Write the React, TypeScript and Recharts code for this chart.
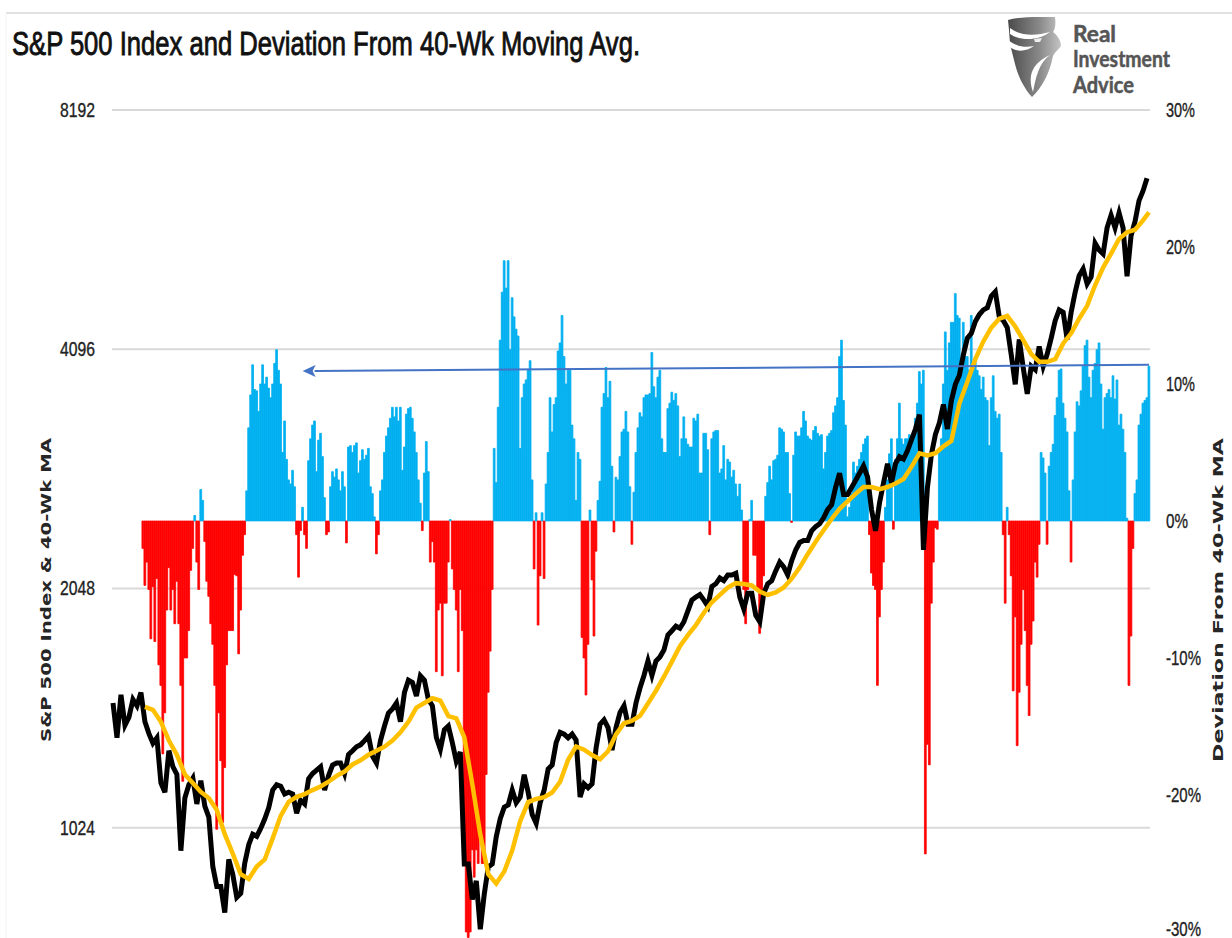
import React from "react";
import { ComposedChart, Bar, Line, XAxis, YAxis, CartesianGrid, Cell, ReferenceLine } from "recharts";

const title = "S&P 500 Index and Deviation From 40-Wk Moving Avg.";
const leftAxisTitle = "S&P 500 Index & 40-Wk MA";
const rightAxisTitle = "Deviation From 40-Wk MA";
const brandLines = ["Real", "Investment", "Advice"];
const leftTicks = [1024, 2048, 4096, 8192];
const rightTicks = [-30, -20, -10, 0, 10, 20, 30];

// Weekly-ish samples. Rows are evenly spaced across the date axis.
const ROW_COUNT = 520;
const DEV_START = 15; // first row with a deviation bar
const MA_START = 16; // first row with a moving average value

const deviationEarly = [
  -2,-4.7,-3,-5,-8.6,-4.8,-8.8,-4.2,-10.5,-12,-17,-14,-6.5,-3.4,-6.5,-5,-7.5,-4.4,-7.5,-12,-19,-10,-10,-8,-3.6,-2,0.4,-3,-5,2.3,1.5,-1.5,-4.4,-5.5,-7.5,-9,-12,-22.5,-14,-17.5,-22,-18,-10.5,-8,-8,-8,-3.9,-4,-9.7,-6.5,-2.5,-1,
  2.2,6.8,9.2,11.4,9.6,9.5,8,10,11.4,10,10.5,9.7,9,10,11.5,12.5,11,10,5,7.3,4.5,3,2.7,3.7,2.5,-1,-4.1,-0.7,1,-1,-2,4.4,6,7,7.3,3.6,5.9,6.4,4.7,1.7,-1,-0.8,2.5,3.6,3.2,3.8,3,2.2,3.6,2.5,-1.6,5.4,5.5,5,5.5,5.7,3.5,4.4,5.2,4.5,4.8,5.3,2.5,2,0.3,-2.4,-1,2.2,3,5,6.2,6.8,7.5,8.3,7.6,8.3,7.3,8.3,3.7,5.4,7.8,8.2,8.3,7.5,6.5,5,3,1.3,-0.7,3.5,5.8,3.6,-3,-1.5,-3,-11,-6.5,
];
const deviationMiddle = [
  -6,-11.3,-6,-6,-3,0.1,-3.5,-5,-6.5,-11,-5,-8,-25,-30,-30.4,-30,-24,-26,-24,-25,-23,-25,-25,-18.5,-12.5,-9.5,-5,
  5.3,2.8,8.3,13.2,16.7,19,17,19,12.5,16.3,14.9,14,13.5,5.3,9,10,10.3,11,11.7,3,-3.5,0.6,-7.6,-4,0.6,-4.2,2.7,5,9,6.5,8.5,9,12.4,13,15,12,10,11,11,7,6,1.5,5,4.5,-8.5,-10,-12.7,-9,0.8,-4.3,-8.4,-2.2,1.5,2.9,8.3,9.3,11.2,9,10.2,4,-0.8,3.2,3,4.7,6.5,6.7,8,6.5,2.5,-1.7,2.1,5,6.8,7.9,7.6,9,9.2,9.2,9.3,12.3,9.8,9,10.5,11,6,5,5,8.2,8.6,9.4,8.8,9.3,8.4,4.7,6,7.6,6,5.6,5.4,5.4,7.5,7.3,7.8,3.5,3.5,6.4,6.4,5.2,-1,6,6.5,6.6,6.6,3.5,3.8,5.5,3,4.5,4.3,3.2,3.7,2.7,1.8,2.7,0.8,-5,-7.5,-5,0.1,1.5,-2.5,-2.5,-5,-8.2,-6,-4,1.8,2.8,4,3,4.4,4.5,4.8,6.8,
];
const deviationLate = [
  6.7,6.5,5,5,2,-0.1,4.8,6.5,6.2,6.2,6.8,8,7.3,6.2,6,5.9,6.6,6.9,6.4,6.2,6.3,3.8,5,6.2,6.4,6.6,7.9,8.4,9,12,13.2,8.8,7,0.3,1,2,4.3,3.5,4,4.5,5,5.6,6,6.2,-1,-3.8,-4.7,-5,-12,-7,-5,-3,1,3,4.9,6,-0.6,4.5,6,8.6,6,5.6,6,6,6.3,6,6.3,7.5,8.6,10.9,10,11,-24.3,-16.3,-17.8,-6,-3,-0.5,-0.6,5,6,10,13.8,11,13,14.5,14.5,16.6,15,14.8,11.5,14.5,12,12,11,15,11,12,11,10.6,9.6,10.5,9,8.8,5.5,9,10.6,8,7.5,7.8,5,-1,-6,1,-1,-4,-12.4,-7,-16.4,-12.5,-9,-5,-8,-12,-14.2,-9,-7.3,-3,-4.1,-1.7,5,4.6,3.5,-1.7,4,5,5.6,7.7,9,11,11.1,8.6,7.5,6.5,2.2,-3,3,6.5,8.7,8.4,9.5,11.3,12.8,13.2,10.5,9,11,11.5,12.5,13,10,6.7,9,9.3,9.6,9,10.6,8.9,10.3,7,7.8,6.7,5,0.2,-12,-8.4,-2,2,3,7,7.8,8.6,8.8,9,11.3,11.6,
];

const spxEarly = [
  1470,1329,1505,1378,1411,1485,1458,1515,1392,1345,1308,1329,1166,1135,1280,1222,1195,958,1116,1160,1182,1097,1174,1090,1056,915,864,864,801,934,895,837,847,924,975,1005,999,1022,1050,1085,1142,1160,1155,1129,1135,1129,1068,1109,1097,1180,1198,1210,1222,1142,1191,1228,1235,1235,1198,1266,1280,1295,1302,1318,1335,1260,1235,1318,1375,1428,1445,1470,1392,1515,1570,1560,1500,1590,1570,1485,1458,1330,1285,1360,1375,
];
const spxMiddle = [
  1310,1241,1275,922,922,832,878,763,845,914,922,998,1051,1087,1094,1142,1101,1119,1194,1134,1064,1037,1101,1142,1214,1228,1310,1350,1343,1329,1343,1320,1119,1163,1150,1163,1290,1382,1400,1369,1282,1369,1430,1458,1382,1382,1470,1535,1592,1660,1592,1660,1680,1714,1790,1812,1836,1825,1860,1920,1980,1998,2012,1980,1945,2060,2076,2111,2095,2130,2130,2140,1998,1930,2020,2020,1895,1860,2020,2076,2095,2155,2210,2180,
];
const spxLate = [
  2130,2220,2290,2340,2353,2353,2420,2450,2470,2513,2574,2610,2745,2860,2690,2690,2745,2800,2860,2920,2830,2574,2420,2625,2780,2940,2780,2940,3000,2980,3052,3150,3251,3390,2290,2745,3020,3200,3310,3490,3251,3530,3700,3800,4030,4230,4290,4440,4530,4590,4620,4780,4840,4500,4450,4360,4030,3700,4214,3880,3600,3900,3860,4130,3900,4040,4230,4450,4590,4560,4214,4560,4830,5070,5170,4950,5050,5570,5462,5400,5824,6040,5824,6080,5824,5060,5690,5930,6300,6480,6720,
];

const maEarly = [
  1453,1441,1392,1318,1265,1195,1166,1136,1116,1078,1005,950,895,883,915,934,993,1060,1104,1120,1129,1142,1154,1170,1190,1205,1230,1245,1265,1280,1295,1318,1350,1392,1450,1470,1490,1480,1415,
];
const maMiddle = [
  1406,1330,1162,1004,895,871,902,959,1044,1103,1113,1119,1134,1170,1247,1296,1284,1264,1249,1278,1342,1386,1396,1416,1468,1523,1586,1657,1733,1789,1842,1909,1968,2010,2054,2080,2075,2066,2030,2010,2025,2054,
];
const maLate = [
  2107,2176,2262,2345,2424,2505,2580,2636,2694,2748,2748,2730,2748,2776,2813,2913,3030,3012,3030,3092,3140,3500,3728,3980,4190,4360,4475,4510,4375,4205,4040,3950,3950,3980,4165,4290,4475,4645,4930,5190,5405,5640,5750,5790,5950,
];
const maLastWeek = 519;
const maLastValue = 6090;

const deviation = [...deviationEarly, ...deviationMiddle, ...deviationLate];
const spx = [...spxEarly, ...spxMiddle, ...spxLate];
const ma = [...maEarly, ...maMiddle, ...maLate];

const rows = Array.from({ length: ROW_COUNT }, (_, week) => ({
  week,
  dev: week >= DEV_START ? deviation[week - DEV_START] ?? null : null,
  spx: week % 2 === 0 ? spx[week / 2] ?? null : null,
  ma:
    week === maLastWeek
      ? maLastValue
      : week >= MA_START && (week - MA_START) % 4 === 0
        ? ma[(week - MA_START) / 4] ?? null
        : null,
}));

const BLUE = "#00B0F0";
const RED = "#FF0000";

function AxisTick(props: any) {
  const { x, y, payload, textAnchor, suffix } = props;
  const label = `${payload.value}${suffix ?? ""}`;
  const widths: Record<number, number> = { 2: 22, 3: 29, 4: 35 };
  return (
    <text
      x={x}
      y={y}
      dy={payload.value === -30 ? 4 : 7}
      textAnchor={textAnchor}
      fontFamily="'Liberation Sans'"
      fontSize={20}
      fill="#222"
      stroke="#222"
      strokeWidth={0.35}
      textLength={widths[label.length]}
      lengthAdjust="spacingAndGlyphs"
    >
      {label}
    </text>
  );
}

export default function App() {
  return (
    <div style={{ position: "absolute", left: 0, top: 0, width: 1232, height: 938, overflow: "hidden", background: "#fff" }}>
      <svg width={1232} height={938} style={{ position: "absolute", left: 0, top: 0 }}>
        <defs>
          <marker id="arrowHead" markerUnits="userSpaceOnUse" markerWidth={14} markerHeight={12} refX={1} refY={6} orient="auto-start-reverse">
            <path d="M13,0 L0,6 L13,12 L10,6 Z" fill="#4472C4" transform="rotate(180 7 6) translate(1 0)" />
          </marker>
        </defs>
        <line x1={6} y1={13} x2={1232} y2={13} stroke="#e2e2e2" strokeWidth={2} />
        <line x1={6} y1={13} x2={6} y2={938} stroke="#f2f2f2" strokeWidth={1} />
      </svg>
      <div style={{ position: "absolute", left: 0, top: 0 }}>
        <ComposedChart
          width={1232}
          height={938}
          data={rows}
          margin={{ top: 110, right: 12, bottom: 0, left: 52 }}
          barCategoryGap={0}
          barGap={0}
        >
          <CartesianGrid vertical={false} yAxisId="price" stroke="#d9d9d9" strokeWidth={2} horizontalValues={leftTicks} />
          <XAxis dataKey="week" hide type="category" />
          <YAxis
            yAxisId="price"
            orientation="left"
            width={60}
            scale="log"
            domain={[744, 8192]}
            allowDataOverflow
            ticks={leftTicks}
            interval={0}
            axisLine={false}
            tickLine={false}
            tickSize={0}
            tickMargin={17}
            tick={<AxisTick />}
          />
          <YAxis
            yAxisId="dev"
            orientation="right"
            width={70}
            domain={[-30.44, 30]}
            allowDataOverflow
            ticks={rightTicks}
            interval={0}
            axisLine={false}
            tickLine={false}
            tickSize={0}
            tickMargin={16}
            tick={<AxisTick suffix="%" />}
          />
          <Bar yAxisId="dev" dataKey="dev" barSize={2} isAnimationActive={false}>
            {rows.map((r) => {
              const color = (r.dev ?? 0) >= 0 ? BLUE : RED;
              return <Cell key={r.week} fill={color} stroke={color} strokeWidth={0.8} />;
            })}
          </Bar>
          <Line yAxisId="price" dataKey="spx" stroke="#000000" strokeWidth={5} dot={false} connectNulls isAnimationActive={false} />
          <Line yAxisId="price" dataKey="ma" stroke="#FFC000" strokeWidth={4.5} dot={false} connectNulls isAnimationActive={false} />
          <ReferenceLine
            yAxisId="dev"
            ifOverflow="visible"
            stroke="#4472C4"
            strokeWidth={2}
            markerStart="url(#arrowHead)"
            segment={[{ x: 101, y: 10.95 }, { x: 519, y: 11.4 }]}
          />
        </ComposedChart>
      </div>
      <svg width={1232} height={938} style={{ position: "absolute", left: 0, top: 0, pointerEvents: "none" }}>
        <text x={12} y={55} fontFamily="'Liberation Sans'" fontSize={34} fill="#111" stroke="#111" strokeWidth={0.9} textLength={628} lengthAdjust="spacingAndGlyphs">{title}</text>
        <text transform="translate(51 742) rotate(-90)" fontFamily="'DejaVu Sans'" fontWeight={700} fontSize={13.5} fill="#262626" textLength={304} lengthAdjust="spacingAndGlyphs">{leftAxisTitle}</text>
        <text transform="translate(1223 762) rotate(-90)" fontFamily="'DejaVu Sans'" fontWeight={700} fontSize={13.5} fill="#262626" textLength={324} lengthAdjust="spacingAndGlyphs">{rightAxisTitle}</text>
        <defs>
          <linearGradient id="eagle" x1="0" y1="0" x2="1" y2="0">
            <stop offset="0" stopColor="#4a4a4a" />
            <stop offset="0.6" stopColor="#8a8a8a" />
            <stop offset="1" stopColor="#c4c4c4" />
          </linearGradient>
        </defs>
        <path d="M1008,20 C1022,16 1040,17 1055,17 C1056,24 1055,30 1053,32 C1057,35 1061,40 1061,46 C1058,50 1055,52 1053,56 C1050,72 1042,88 1032,97 C1024,88 1018,76 1015,64 L1010,44 L1009,30 Z" fill="url(#eagle)" />
        <path d="M1010,28 C1020,36 1035,36 1050,32 C1040,40 1022,42 1010,34 Z M1008,40 C1016,46 1024,48 1034,46 C1026,52 1016,52 1010,47 Z M1033,92 C1028,78 1030,64 1050,55 C1038,64 1036,78 1033,92 Z" fill="#ffffff" />
        <path d="M1034,39 L1042,38 L1040,42 L1035,42 Z" fill="#eeeeee" />
        {brandLines.map((line, i) => (
          <text key={line} x={1073} y={[42, 67, 93][i]} fontFamily="Lato, 'Open Sans'" fontWeight={700} fontSize={22} fill="#555" stroke="#555" strokeWidth={0.5} textLength={[43, 97, 61][i]} lengthAdjust="spacingAndGlyphs">{line}</text>
        ))}
      </svg>
    </div>
  );
}
